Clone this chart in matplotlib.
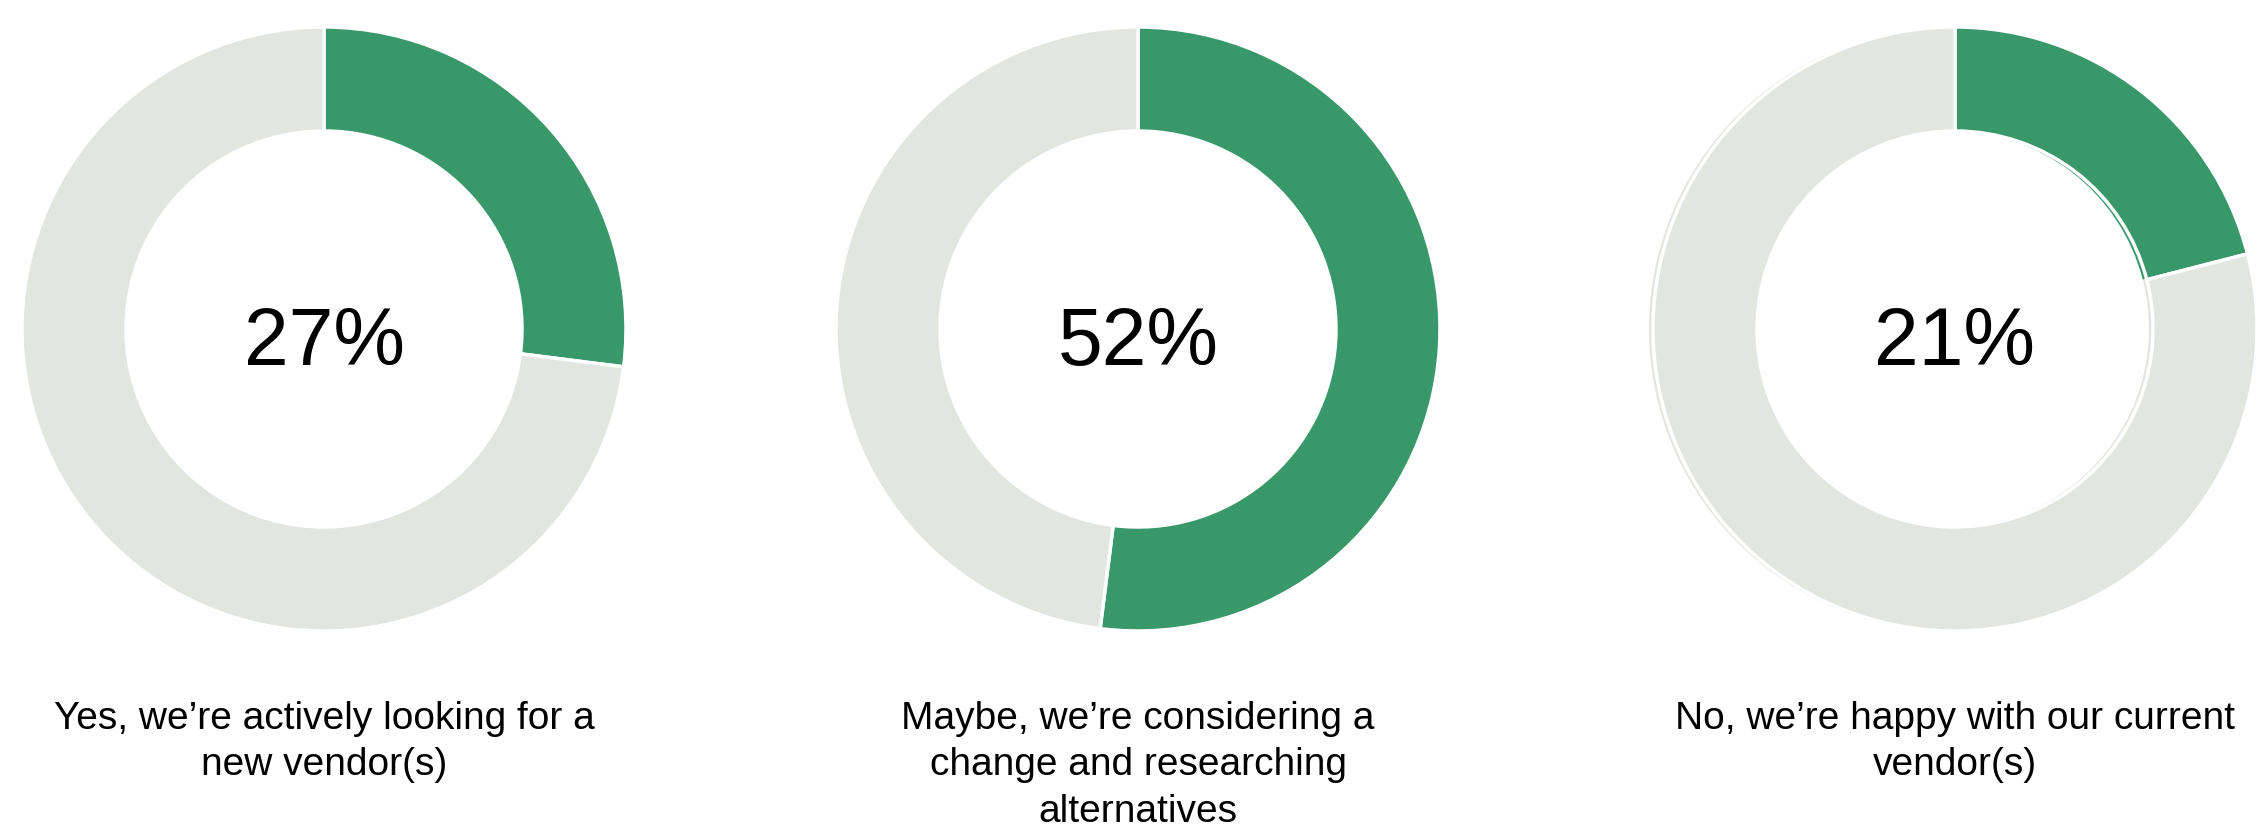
import matplotlib
matplotlib.use("Agg")
import matplotlib.pyplot as plt

# survey answers: share of respondents per answer
shares = [27, 52, 21]
labels = [
    ["Yes, we\u2019re actively looking for a", "new vendor(s)"],
    ["Maybe, we\u2019re considering a", "change and researching", "alternatives"],
    ["No, we\u2019re happy with our current", "vendor(s)"],
]

W, H = 2257, 829
green = "#389869"
grey = "#e3e5e0"

centers_x = [324, 1138, 1955]
cy = H - 330
r_out = 302
ring = 104

fig = plt.figure(figsize=(W / 100, H / 100), dpi=100)
ax = fig.add_axes([0, 0, 1, 1])
plt.rcParams["font.family"] = ["Liberation Sans", "DejaVu Sans"]

for i, (cx, v) in enumerate(zip(centers_x, shares)):
    vals = [v, 100 - v]
    if i == 2:
        # slightly offset copy underneath the last ring
        ax.pie(vals, colors=[green, grey], startangle=90, counterclock=False,
               center=(cx - 4, cy), radius=r_out,
               wedgeprops=dict(width=ring, linewidth=0))
    ax.pie(vals, colors=[green, grey], startangle=90, counterclock=False,
           center=(cx, cy), radius=r_out,
           wedgeprops=dict(width=ring, edgecolor="white", linewidth=2.5))
    ax.text(cx, H - 365, f"{v}%", ha="center", va="baseline",
            fontsize=58, color="black")
    for j, line in enumerate(labels[i]):
        ax.text(cx, H - 729 - j * 46.5, line, ha="center", va="baseline",
                fontsize=28, color="black")

ax.set_xlim(0, W)
ax.set_ylim(0, H)
ax.set_aspect("auto")
ax.axis("off")
fig.savefig("out.png", dpi=100, facecolor="white")
